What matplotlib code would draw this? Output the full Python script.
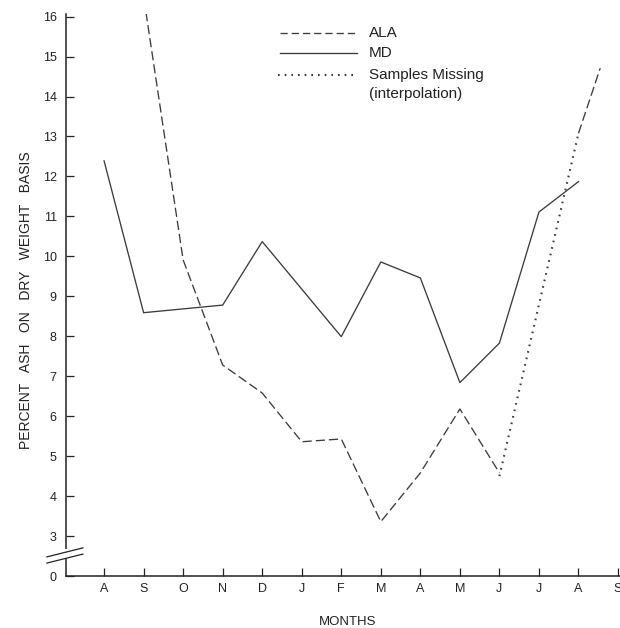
import matplotlib
matplotlib.use("Agg")
import matplotlib.pyplot as plt
from matplotlib.patches import Rectangle


# months on the x axis (positions 1..14)
MONTH_LABELS = ["A", "S", "O", "N", "D", "J", "F", "M", "A", "M", "J", "J", "A", "S"]

# MD series (solid)
MD_X = [1, 2, 4, 5, 7, 8, 9, 10, 11, 12, 13]
MD_Y = [12.39, 8.59, 8.78, 10.37, 7.99, 9.86, 9.46, 6.84, 7.83, 11.11, 11.87]

# ALA series (dashed), first part
ALA_X = [2, 3, 4, 5, 6, 7, 8, 9, 10, 11]
ALA_Y = [16.5, 9.91, 7.28, 6.58, 5.36, 5.43, 3.36, 4.58, 6.18, 4.58]

# ALA after the gap (dashed)
ALA_END_X = [13, 13.55]
ALA_END_Y = [13.08, 14.71]

# samples missing (dotted interpolation)
MISS_X = [11, 13]
MISS_Y = [4.5, 13.08]

Y_TICKS = list(range(3, 17))
ZERO_POS = 2.0  # where "0" sits below the axis break

LINE_COLOR = "#3c3c3c"
TEXT_COLOR = "#222222"
FONT = "Liberation Sans"

plt.rcParams["font.family"] = FONT

fig = plt.figure(figsize=(6.2, 6.28), dpi=100)
ax = fig.add_axes([0.106, 0.0828, 0.894, 0.8952])

ax.plot(MD_X, MD_Y, color=LINE_COLOR, lw=0.95, solid_joinstyle="miter")
ax.plot(ALA_X, ALA_Y, color=LINE_COLOR, lw=0.95, dashes=(7, 3))
ax.plot(ALA_END_X, ALA_END_Y, color=LINE_COLOR, lw=0.95, dashes=(7, 3))
ax.plot(MISS_X, MISS_Y, color=LINE_COLOR, lw=1.5, linestyle=(0, (0.8, 2.4)))

ax.set_xlim(0.03, 14.05)
ax.set_ylim(ZERO_POS, 16.07)

ax.set_xticks(range(1, 15))
ax.set_xticklabels(MONTH_LABELS)
ax.set_yticks([ZERO_POS] + Y_TICKS)
ax.set_yticklabels(["0"] + [str(v) for v in Y_TICKS])

ax.tick_params(axis="both", direction="in", length=5.5, width=0.9,
               color=TEXT_COLOR, labelsize=9, labelcolor=TEXT_COLOR)
ax.tick_params(axis="y", pad=6.5)
ax.tick_params(axis="x", pad=5)

for side in ("top", "right"):
    ax.spines[side].set_visible(False)
for side in ("left", "bottom"):
    ax.spines[side].set_linewidth(1.1)
    ax.spines[side].set_color(TEXT_COLOR)

ax.set_xlabel("MONTHS", fontsize=9.5, color=TEXT_COLOR)
ax.xaxis.set_label_coords(0.508, -0.071)
ax.set_ylabel("PERCENT   ASH   ON   DRY   WEIGHT   BASIS", fontsize=10,
              color=TEXT_COLOR)
ax.yaxis.set_label_coords(-0.059, 0.491)

# axis break on the y axis
ax.add_patch(Rectangle((-0.01, 0.032), 0.02, 0.016, transform=ax.transAxes,
                       facecolor="white", edgecolor="none", clip_on=False, zorder=5))
for y0 in (0.034, 0.023):
    ax.plot([-0.034, 0.031], [y0, y0 + 0.016], transform=ax.transAxes,
            color=TEXT_COLOR, lw=0.9, clip_on=False, zorder=6)

# legend drawn by hand
lx0, lx1, tx = 0.387, 0.525, 0.547
ax.plot([lx0, lx1], [0.966, 0.966], transform=ax.transAxes,
        color=LINE_COLOR, lw=0.95, dashes=(5.5, 3))
ax.plot([lx0, lx1], [0.930, 0.930], transform=ax.transAxes,
        color=LINE_COLOR, lw=0.95)
ax.plot([lx0 - 0.004, lx1], [0.892, 0.892], transform=ax.transAxes,
        color=LINE_COLOR, lw=1.5, linestyle=(0, (0.8, 2.4)))
legend_rows = [(0.966, "ALA"), (0.930, "MD"), (0.892, "Samples Missing"),
               (0.858, "(interpolation)")]
for ty, label in legend_rows:
    ax.text(tx, ty, label, transform=ax.transAxes, fontsize=11,
            va="center", ha="left", color=TEXT_COLOR)

fig.savefig("out.png", dpi=100)
